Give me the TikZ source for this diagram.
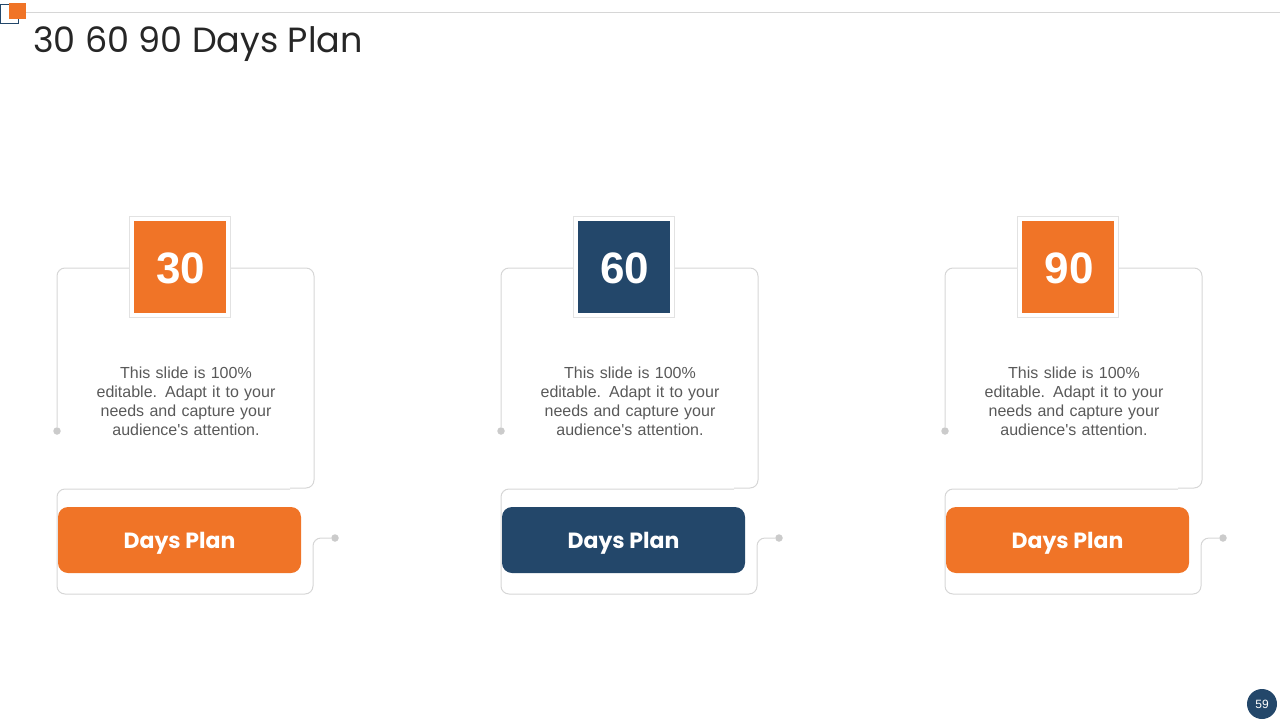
\documentclass[tikz,border=0pt]{standalone}
\usepackage{fontspec}
\setmainfont{Liberation Sans}
\newfontfamily\titlefont{Poppins}
\usetikzlibrary{calc}
\definecolor{planorange}{HTML}{F07427}
\definecolor{plannavy}{HTML}{23476A}
\definecolor{planline}{HTML}{D6D6D6}
\definecolor{plandot}{HTML}{CBCBCB}
\definecolor{plantext}{HTML}{595959}
\definecolor{planhead}{HTML}{262626}

\begin{document}
\begin{tikzpicture}[x=1pt, y=-1pt]

    \useasboundingbox (0,0) rectangle (1280,720);

    \tikzset{
        cardline/.style={draw=planline, line width=1pt, rounded corners=8pt},
        dotmark/.style={circle, fill=plandot, minimum size=7.5pt, inner sep=0pt},
        numframe/.style={draw=planline!70, fill=white, line width=1pt, minimum size=101pt, inner sep=0pt},
        numbox/.style={minimum size=92pt, inner sep=0pt, text=white, font=\bfseries\fontsize{44}{44}\selectfont},
        planbtn/.style={rounded corners=10pt, minimum width=243pt, minimum height=66pt, inner sep=0pt, text=white, font=\titlefont\bfseries\fontsize{22}{22}\selectfont},
        bodytext/.style={align=center, text width=200pt, text=plantext, inner sep=0pt, font=\fontsize{16}{19}\selectfont},
        pics/dayscard/.style 2 args={code={
            \node [dotmark] (dl) at (57, 431) {};
            \node [dotmark] (dr) at (335, 538) {};
            \draw [cardline] (dl) -- (57, 268) -- (314, 268) -- (314, 488) -- (290, 488);
            \draw [cardline] (dr) -- (313, 538) -- (313, 594) -- (57, 594) -- (57, 489) -- (290, 489);
            \node [numframe] (frame) at (180, 266.5) {};
            \node [numbox, fill=#2] (num) at (frame) {};
            \node [text=white, font=\bfseries\fontsize{44}{44}\selectfont] (numtxt) at ($(num) + (1, 2)$) {#1};
            \node [bodytext] (txt) at (186, 401) {This slide is 100\%\\editable. Adapt it to your\\needs and capture your\\audience\textquotesingle s attention.};
            \node [planbtn, fill=#2] (btn) at (179.5, 540) {};
            \node [text=white, font=\titlefont\bfseries\fontsize{22}{22}\selectfont] (btntxt) at ($(btn) + (0, 3)$) {Days Plan};
        }}
    }

    \draw [planline, line width=1pt] (26, 12) -- (1280, 12);
    \draw [plannavy, line width=1pt] (0.5, 4) rectangle (18, 23);
    \fill [planorange] (9, 3) rectangle (26, 19);
    \node [anchor=base west, inner sep=0pt, text=planhead, font=\titlefont\fontsize{35}{42}\selectfont] (title) at (33, 52) {30 60 90 Days Plan};

    \foreach \dx/\num/\col in {0/30/planorange, 444/60/plannavy, 888/90/planorange}{
        \pic (card\num) at (\dx, 0) {dayscard={\num}{\col}};
    }

    \node [circle, fill=plannavy, minimum size=30pt, inner sep=0pt, text=white, font=\fontsize{12}{12}\selectfont] (page) at (1262, 704) {59};

\end{tikzpicture}
\end{document}
